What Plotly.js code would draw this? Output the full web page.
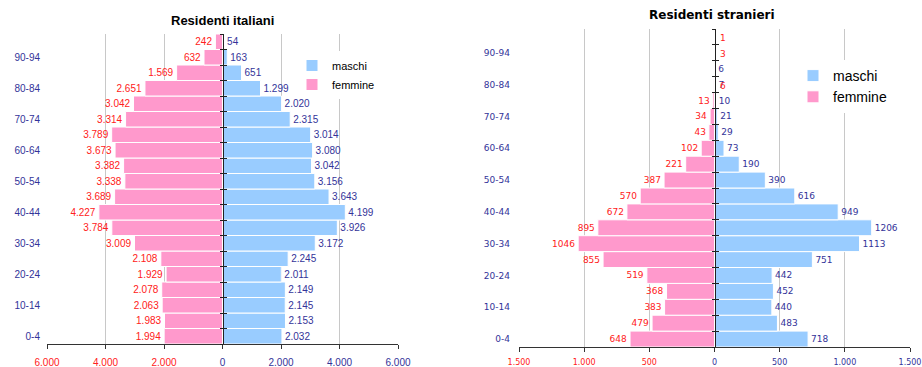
<!DOCTYPE html>
<html><head><meta charset="utf-8">
<script src="https://cdn.plot.ly/plotly-3.0.1.min.js"></script>
<style>html,body{margin:0;padding:0;background:#fff}</style>
</head><body><div id="chart" style="width:922px;height:367px"></div>
<script>
// Age groups, bottom to top
const ageGroups = ['0-4','5-9','10-14','15-19','20-24','25-29','30-34','35-39','40-44','45-49',
  '50-54','55-59','60-64','65-69','70-74','75-79','80-84','85-89','90-94','95+'];
// Residenti italiani
const itFemmine = [1994,1983,2063,2078,1929,2108,3009,3784,4227,3689,3338,3382,3673,3789,3314,3042,2651,1569,632,242];
const itMaschi  = [2032,2153,2145,2149,2011,2245,3172,3926,4199,3643,3156,3042,3080,3014,2315,2020,1299,651,163,54];
// Residenti stranieri
const stFemmine = [648,479,383,368,519,855,1046,895,672,570,387,221,102,43,34,13,6,null,3,1];
const stMaschi  = [718,483,440,452,442,751,1113,1206,949,616,390,190,73,29,21,10,7,6,null,null];
// Axis ticks
const itTicks = [-6000,-4000,-2000,0,2000,4000,6000];
const stTicks = [-1500,-1000,-500,0,500,1000,1500];
const labelGroups = ageGroups.filter((_, i) => i % 2 === 0);

const W = 922, H = 367;
const RED = '#FF2020', BLUE = '#333399', PINK = '#FF99CC', LBLUE = '#99CCFF';
const FA = 'Liberation Sans, Arial, sans-serif';
const FV = 'DejaVu Sans, Verdana, sans-serif';
const px = p => p / W, py = p => 1 - p / H;
const dom1 = [px(47), px(398)], ydom1 = [py(344), py(34)];
const dom2 = [px(519), px(910)], ydom2 = [py(347), py(29)];
const c1 = (dom1[0] + dom1[1]) / 2, c2 = (dom2[0] + dom2[1]) / 2;

const fmt = v => (v == null ? '' : String(v).replace(/\B(?=(\d{3})+(?!\d))/g, '.'));
const tickText = (ticks, f) => ticks.map(v => v < 0
  ? '<span style="color:' + RED + '">' + f(Math.abs(v)) + '</span>' : f(v));

const barBase = {type: 'bar', orientation: 'h', y: ageGroups, cliponaxis: false,
  textposition: 'outside', constraintext: 'none', hoverinfo: 'skip'};

const traces = [
  Object.assign({}, barBase, {name: 'maschi', x: itMaschi, xaxis: 'x', yaxis: 'y', legend: 'legend',
    marker: {color: LBLUE, line: {color: '#fff', width: 1}},
    text: itMaschi.map(fmt), textfont: {family: FA, size: 10, color: BLUE}}),
  Object.assign({}, barBase, {name: 'femmine', x: itFemmine.map(v => -v), xaxis: 'x', yaxis: 'y', legend: 'legend',
    marker: {color: PINK, line: {color: '#fff', width: 1}},
    text: itFemmine.map(fmt), textfont: {family: FA, size: 10, color: RED}}),
  Object.assign({}, barBase, {name: 'maschi', x: stMaschi, xaxis: 'x2', yaxis: 'y2', legend: 'legend2',
    marker: {color: LBLUE, line: {color: '#fff', width: 1}},
    text: stMaschi.map(v => v == null ? '' : String(v)), textfont: {family: FV, size: 9, color: BLUE}}),
  Object.assign({}, barBase, {name: 'femmine', x: stFemmine.map(v => v == null ? null : -v), xaxis: 'x2', yaxis: 'y2', legend: 'legend2',
    marker: {color: PINK, line: {color: '#fff', width: 1}},
    text: stFemmine.map(v => (v == null || v < 10) ? '' : String(v)), textfont: {family: FV, size: 9, color: RED}}),
  // carriers for the central axes (no visible marks)
  {type: 'scatter', mode: 'none', x: itMaschi, y: ageGroups, xaxis: 'x', yaxis: 'y3', showlegend: false, hoverinfo: 'skip'},
  {type: 'scatter', mode: 'none', x: itMaschi, y: ageGroups, xaxis: 'x', yaxis: 'y4', showlegend: false, hoverinfo: 'skip'},
  {type: 'scatter', mode: 'none', x: stMaschi, y: ageGroups, xaxis: 'x2', yaxis: 'y5', showlegend: false, hoverinfo: 'skip'},
  {type: 'scatter', mode: 'none', x: stMaschi, y: ageGroups, xaxis: 'x2', yaxis: 'y6', showlegend: false, hoverinfo: 'skip'}
];

// small female values in the foreign chart are labelled right of the axis
const annotations = [];
stFemmine.forEach((v, i) => {
  if (v != null && v < 10) annotations.push({xref: 'x2', yref: 'y2', x: 0, y: ageGroups[i], text: String(v),
    showarrow: false, xanchor: 'left', xshift: 3, yshift: -1, font: {family: FV, size: 9, color: RED}});
});
annotations.push({xref: 'paper', yref: 'paper', x: c1, y: py(21), text: '<b>Residenti italiani</b>',
  showarrow: false, xanchor: 'center', yanchor: 'middle', font: {family: FA, size: 13, color: '#000'}});
annotations.push({xref: 'paper', yref: 'paper', x: c2 - px(3), y: py(15), text: '<b>Residenti stranieri</b>',
  showarrow: false, xanchor: 'center', yanchor: 'middle', font: {family: FV, size: 12, color: '#000'}});

const xBase = {showgrid: true, gridcolor: '#C8C8C8', gridwidth: 1, zeroline: false, showline: true,
  linecolor: '#333', linewidth: 1, ticks: 'outside', ticklen: 4, tickcolor: '#333', tickmode: 'array',
  ticklabeloverflow: 'allow', fixedrange: true};
const yLab = {type: 'category', categoryorder: 'array', categoryarray: ageGroups, range: [-0.5, 19.5],
  tickmode: 'array', tickvals: labelGroups, ticks: '', showline: false, showgrid: false, zeroline: false};
const yCenter = (over, pos, ticks) => ({type: 'category', categoryorder: 'array', categoryarray: ageGroups,
  range: [-0.5, 19.5], overlaying: over, anchor: 'free', position: pos, side: 'left', showline: true,
  linecolor: '#222', linewidth: 1.5, ticks: ticks, ticklen: 3, tickwidth: 1, tickcolor: '#222',
  tickson: 'boundaries', tickmode: 'array', tickvals: ageGroups, showticklabels: false, showgrid: false, zeroline: false});

const layout = {
  width: W, height: H, margin: {l: 0, r: 0, t: 0, b: 0},
  paper_bgcolor: '#fff', plot_bgcolor: 'rgba(0,0,0,0)',
  separators: ',.', barmode: 'overlay', bargap: 0, showlegend: true,
  xaxis: Object.assign({}, xBase, {domain: dom1, anchor: 'y', range: [-6000, 6000], tickvals: itTicks,
    ticktext: tickText(itTicks, fmt), ticklabelstandoff: 5, tickfont: {family: FA, size: 10, color: BLUE}}),
  xaxis2: Object.assign({}, xBase, {domain: dom2, anchor: 'y2', range: [-1500, 1500], tickvals: stTicks,
    ticktext: tickText(stTicks, fmt), ticklabelstandoff: 3, tickfont: {family: FV, size: 8, color: BLUE}}),
  yaxis: Object.assign({}, yLab, {domain: ydom1, anchor: 'x', ticklabelstandoff: 6, tickfont: {family: FA, size: 10, color: BLUE}}),
  yaxis2: Object.assign({}, yLab, {domain: ydom2, anchor: 'x2', ticklabelstandoff: 8, tickfont: {family: FV, size: 9, color: BLUE}}),
  yaxis3: yCenter('y', c1, 'outside'),
  yaxis4: yCenter('y', c1, 'inside'),
  yaxis5: yCenter('y2', c2, 'outside'),
  yaxis6: yCenter('y2', c2, 'inside'),
  legend: {x: px(292), y: py(51), xanchor: 'left', yanchor: 'top', bgcolor: '#fff', borderwidth: 0,
    font: {family: FA, size: 11, color: '#000'}, traceorder: 'normal', itemclick: false, tracegroupgap: 0},
  legend2: {x: px(793), y: py(60), xanchor: 'left', yanchor: 'top', bgcolor: '#fff', borderwidth: 0,
    font: {family: FA, size: 14, color: '#000'}, traceorder: 'normal', itemclick: false},
  annotations: annotations
};

Plotly.newPlot('chart', traces, layout, {displayModeBar: false, staticPlot: true});
</script></body></html>
